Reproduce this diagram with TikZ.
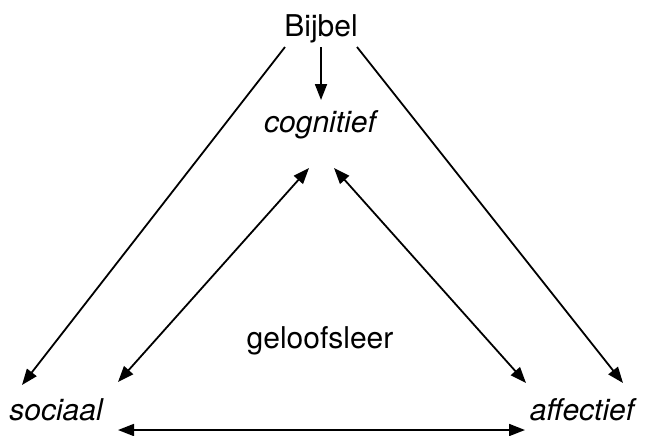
\documentclass[tikz,border=0pt]{standalone}
\usepackage{fontspec}
\setmainfont{TeX Gyre Heros}
\usetikzlibrary{arrows.meta,calc}

\begin{document}
\begin{tikzpicture}[x=0.5pt, y=-0.5pt,
	%Option for nice arrows
	>={Triangle[length=8pt,width=6pt]}, %
	inner sep=0pt, outer sep=0pt,%
	word/.style={anchor=base, font=\fontsize{15}{18}\selectfont},
	aspect/.style={word, font=\fontsize{15}{18}\selectfont\itshape},
	link/.style={line width=0.9pt,#1},
	]
	\useasboundingbox (0,0) rectangle (646,435);
	
	% Source and aspects
	\node[word]   (bijbel) at (321,36)  {Bijbel};
	\node[aspect] (cog)    at (320,132) {cognitief};
	\node[aspect] (soc)    at (56,420)  {sociaal};
	\node[aspect] (aff)    at (582,420) {affectief};
	\node[word]   (leer)   at (320,348) {geloofsleer};
	
	% From the Bible to each aspect
	\draw[link=->] ($(bijbel.base)+(-36,11)$) -- ($(soc.base)+(-34,-35)$);
	\draw[link=->] ($(bijbel.base)+(0,11)$)   -- ($(cog.base)+(1,-32)$);
	\draw[link=->] ($(bijbel.base)+(36,11)$)  -- ($(aff.base)+(41,-37)$);
	
	% Between the aspects
	\draw[link=<->] ($(cog.base)+(-11,36)$) -- ($(soc.base)+(62,-38)$);
	\draw[link=<->] ($(cog.base)+(14,36)$)  -- ($(aff.base)+(-56,-37)$);
	\draw[link=<->] ($(soc.base)+(62,10)$)  -- ($(aff.base)+(-57,10)$);
\end{tikzpicture}
\end{document}
